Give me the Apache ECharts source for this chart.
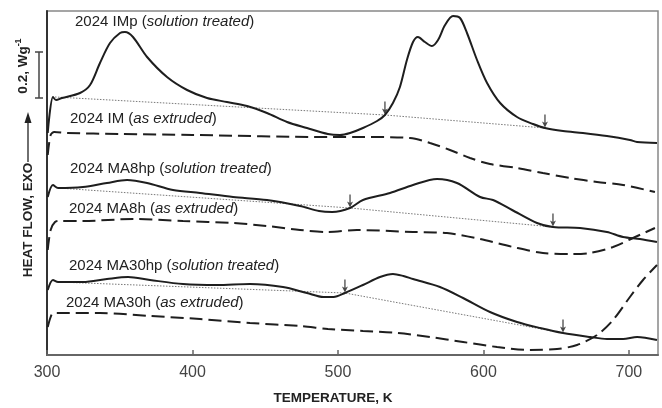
<!DOCTYPE html>
<html><head><meta charset="utf-8">
<script src="https://cdn.jsdelivr.net/npm/echarts@6/dist/echarts.min.js"></script>
<style>html,body{margin:0;padding:0;background:#fff}#c{width:662px;height:408px}</style>
</head><body><div id="c"></div>
<script>
// Temperature (K) vs heat flow (offset, arbitrary units; 0.2 W/g ≈ 46.5 units)
const xTicks = [300, 400, 500, 600, 700];
const curveIMp = [[300.5,222],[304.1,258],[306.2,255],[310.3,257],[322.7,262],[329.6,270],[336.4,292],[343.3,312],[350.2,322],[353.6,323],[359.1,318],[368.8,298],[382.5,278],[396.3,265],[410.0,257],[423.7,253],[437.5,249],[451.2,242],[465.0,233],[478.7,227],[493.1,221],[501.4,220],[508.3,222],[517.2,227],[526.9,234],[532.3,240],[537.8,252],[542.6,268],[547.4,295],[551.6,313],[555.0,318],[559.8,313],[564.6,309],[568.8,315],[573.6,330],[579.1,339],[583.9,337],[588.7,322],[595.6,295],[602.5,272],[611.5,252],[623.1,238],[634.1,231],[642.3,227],[654.7,224],[668.4,222],[684.9,219],[700.7,215],[705.6,213],[719.3,212]];
const curveIM = [[300.5,200],[302.5,220],[305.0,223],[313.7,222],[350,221],[400,220],[494.5,218],[517.2,218],[549.5,217],[563.3,212],[577.0,205],[590.8,197],[604.5,191],[623.1,187],[640.9,182],[659.5,177],[678.1,173],[696.0,170],[717.9,163]];
const curveMA8hp = [[300.5,158],[304.1,170],[307.6,167],[324.7,168],[341.2,172],[355.0,175],[368.8,172],[386.6,165],[405.2,162],[427.9,158],[451.2,155],[473.9,149],[487.0,144],[496.0,143],[508.3,147],[517.2,155],[535.8,162],[551.6,170],[568.1,176],[581.8,172],[597.7,158],[606.6,155],[619.7,145],[636.8,132],[647.8,128],[666.4,127],[684.9,123],[696.0,118],[707.6,116],[719.3,113]];
const curveMA8h = [[300.5,105],[302.5,125],[305.5,133],[308.9,134],[324.7,134],[359.1,136],[393.5,134],[427.9,132],[451.2,129],[473.9,125],[493.1,123],[513.1,125],[551.6,123],[575.0,122],[597.7,116],[620.3,108],[640.9,102],[659.5,101],[673.3,102],[689.1,108],[702.8,117],[717.9,127]];
const curveMA30hp = [[300.5,65],[304.1,75],[307.6,73],[324.7,73],[341.2,76],[355.7,78],[370.8,75],[393.5,71],[416.9,70],[439.5,71],[462.2,68],[478.7,62],[490.0,58],[497.0,58],[504.8,62],[517.2,70],[528.9,78],[537.8,81],[545.0,79],[551.6,76],[570.1,68],[586.0,57],[604.5,43],[623.1,33],[638.9,27],[654.7,22],[673.3,18],[684.9,16],[696.0,16],[705.6,18],[719.3,15]];
const curveMA30h = [[300.5,28],[302.5,38],[304.1,42],[308.9,42],[336.4,42],[370.8,39],[405.2,36],[439.5,32],[473.9,29],[493.1,26],[517.2,24],[540.6,22],[563.3,18],[586.0,13],[609.4,8],[632.0,5],[650.6,6],[664.3,10],[678.1,20],[689.1,35],[700.7,58],[709.7,75],[719.3,90]];
const baseIMp = [[305.5,258],[532.3,240],[642.3,227]];
const baseMA8hp = [[307.6,167],[508.3,147],[647.8,128]];
const baseMA30hp = [[307.6,73],[504.8,62],[654.7,22]];
const arrowPts = [[532.3,240],[642.3,227],[508.3,147],[647.8,128],[504.8,62],[654.7,22]];
const labels = [
  ['2024 IMp (', 'solution treated', ')'],
  ['2024 IM (', 'as extruded', ')'],
  ['2024 MA8hp (', 'solution treated', ')'],
  ['2024 MA8h (', 'as extruded', ')'],
  ['2024 MA30hp (', 'solution treated', ')'],
  ['2024 MA30h (', 'as extruded', ')']
];
const labelPos = [[75,22],[70,119],[70,169],[69,209],[69,266],[66,303]];

const ink = '#1e1e1e';
function solid(d){return {type:'line',data:d,showSymbol:false,smooth:0.3,lineStyle:{color:ink,width:2},z:3,silent:true};}
function dashed(d){return {type:'line',data:d,showSymbol:false,smooth:0.3,lineStyle:{color:ink,width:2,type:[13,6]},z:3,silent:true};}
function dotted(d){return {type:'line',data:d,showSymbol:false,lineStyle:{color:'#555',width:0.8,type:[1.5,1.5]},z:2,silent:true};}

const rich = {
  n:{fontFamily:'Liberation Sans',fontSize:15,fill:'#222',color:'#222'},
  i:{fontFamily:'Liberation Sans',fontSize:15,fontStyle:'italic',fill:'#222',color:'#222'}
};
const graphics = labels.map((l,k)=>({
  type:'text', x:labelPos[k][0], y:labelPos[k][1], z:10,
  style:{text:'{n|'+l[0]+'}{i|'+l[1]+'}{n|'+l[2]+'}', rich:rich, verticalAlign:'middle', align:'left', fill:'#222'}
}));
graphics.push(
  {type:'text', x:28, y:220, rotation:Math.PI/2, z:10,
   style:{text:'HEAT FLOW, EXO', font:'bold 13.5px "Liberation Sans"', fill:'#222', align:'center', verticalAlign:'middle'}},
  {type:'line', z:10, shape:{x1:28,y1:162,x2:28,y2:121}, style:{stroke:'#222',lineWidth:1.3}},
  {type:'polygon', z:10, shape:{points:[[28,112],[24.5,123],[31.5,123]]}, style:{fill:'#222'}},
  {type:'text', x:22, y:66, rotation:Math.PI/2, z:10,
   style:{text:'{a|0.2, Wg}{s|-1}', align:'center', verticalAlign:'middle',
     rich:{a:{font:'bold 13.5px "Liberation Sans"', fill:'#222', lineHeight:16, verticalAlign:'bottom'},
           s:{font:'bold 9px "Liberation Sans"', fill:'#222', lineHeight:16, verticalAlign:'top'}}}},
  {type:'line', z:10, shape:{x1:39,y1:52,x2:39,y2:98}, style:{stroke:'#444',lineWidth:1.5}},
  {type:'line', z:10, shape:{x1:35,y1:52,x2:43,y2:52}, style:{stroke:'#444',lineWidth:1.5}},
  {type:'line', z:10, shape:{x1:35,y1:98,x2:43,y2:98}, style:{stroke:'#444',lineWidth:1.5}},
  {type:'text', x:333, y:398, z:10,
   style:{text:'TEMPERATURE, K', font:'bold 13.5px "Liberation Sans"', fill:'#222', align:'center', verticalAlign:'middle'}}
);

const chart = echarts.init(document.getElementById('c'), null, {renderer:'canvas'});
chart.setOption({
  animation:false,
  backgroundColor:'#fff',
  grid:{left:47, right:4, top:11, bottom:53, show:true, borderColor:'#888', borderWidth:1.5},
  xAxis:{type:'value', min:300, max:720, interval:100,
    axisLine:{lineStyle:{color:'#666',width:2}},
    axisTick:{inside:true,length:5,lineStyle:{color:'#666',width:1.5}},
    axisLabel:{margin:10,fontSize:16,color:'#444',fontFamily:'Liberation Sans',showMaxLabel:false,
      formatter:v=>xTicks.includes(v)?String(v):''},
    splitLine:{show:false}},
  yAxis:{type:'value', min:0, max:344,
    axisLine:{show:true,lineStyle:{color:'#333',width:2}},
    axisTick:{show:false}, axisLabel:{show:false}, splitLine:{show:false}},
  series:[
    solid(curveIMp), dashed(curveIM), solid(curveMA8hp), dashed(curveMA8h), solid(curveMA30hp), dashed(curveMA30h),
    dotted(baseIMp), dotted(baseMA8hp), dotted(baseMA30hp),
    {type:'scatter', data:arrowPts, silent:true, z:4,
     symbol:'path://M2.4,0 L3.6,0 L3.6,7.5 L5.8,6.5 L3,12 L0.2,6.5 L2.4,7.5 Z', symbolSize:[6,13], symbolOffset:[0,-7],
     itemStyle:{color:'#1a1a1a', borderWidth:0}}
  ],
  graphic:graphics
});
</script></body></html>
